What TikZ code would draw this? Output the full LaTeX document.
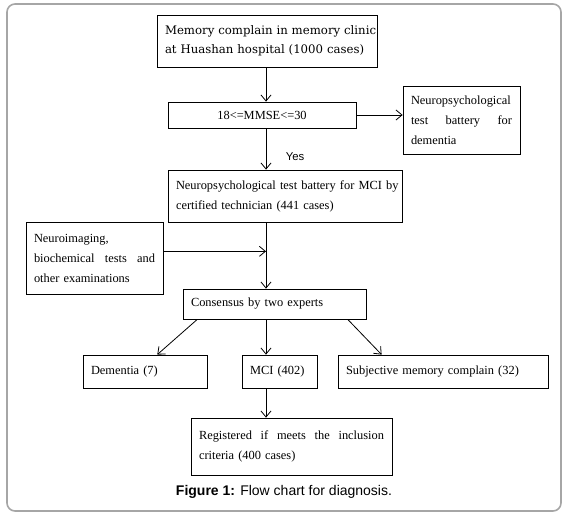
\documentclass[tikz,border=0pt]{standalone}
\usepackage{fontspec}
\setmainfont{Liberation Serif}
\setsansfont{Liberation Sans}
\newfontfamily\clinicfont{DejaVu Serif}
\usetikzlibrary{arrows.meta}
\newcommand{\fullline}[1]{\noindent\hbox to\hsize{#1}}
\begin{document}
\begin{tikzpicture}[x=0.75pt,y=-0.75pt,line width=0.6pt,
    >={Straight Barb[length=4.5pt,width=7.5pt]},
    flowbox/.style={draw, inner xsep=6pt, inner ysep=0pt, align=left,
        font=\fontsize{9.3}{15}\selectfont}]
    \useasboundingbox (0,0) rectangle (566,518);
    \draw[gray!70, line width=1.2pt, rounded corners=6pt] (7,4) rectangle (561,511);
    \coordinate (spine) at (266,0);
    % boxes
    \node[flowbox, text width=153pt, minimum height=39pt,
        font=\clinicfont\fontsize{8.8}{14.5}\selectfont] (clinic) at (267,41)
        {\mbox{Memory complain in memory clinic}\\\mbox{at Huashan hospital (1000 cases)}};
    \node[flowbox, text width=129pt, minimum height=19.5pt, align=center] (mmse) at (262,115) {18<=MMSE<=30};
    \node[flowbox, text width=75.75pt, minimum height=51pt] (dementiabat) at (461.5,120)
        {Neuropsychological\\\fullline{test\hfill battery\hfill for}\\dementia};
    \node[flowbox, text width=163.5pt, minimum height=39pt] (mcibat) at (285,196)
        {\mbox{Neuropsychological test battery for MCI by}\\certified technician (441 cases)};
    \node[flowbox, text width=90.75pt, minimum height=54pt] (imaging) at (94.5,258)
        {Neuroimaging,\\\fullline{biochemical\hfill tests\hfill and}\\other examinations};
    \node[flowbox, text width=125.25pt, minimum height=22.5pt] (consensus) at (274.5,304) {Consensus by two experts};
    \node[flowbox, text width=81pt, minimum height=24.75pt] (dementia) at (145,371.5) {Dementia (7)};
    \node[flowbox, text width=44.25pt, minimum height=24.75pt] (mci) at (279.5,371.5) {MCI (402)};
    \node[flowbox, text width=145.5pt, minimum height=24.75pt] (smc) at (443,371.5) {Subjective memory complain (32)};
    \node[flowbox, text width=138.75pt, minimum height=42.75pt] (registered) at (291.5,446.5)
        {\fullline{Registered\hfill if\hfill meets\hfill the\hfill inclusion}\\criteria (400 cases)};
    \node[font=\sffamily\fontsize{8.5}{10}\selectfont] (yes) at (295,157) {Yes};
    \node[font=\sffamily\fontsize{10.5}{12}\selectfont] (caption) at (284,492)
        {\textbf{Figure 1:} Flow chart for diagnosis.};
    % arrows
    \draw[->] (clinic.south -| spine) -- (mmse.north -| spine);
    \draw[->] (mmse.east) -- (mmse.east -| dementiabat.west);
    \draw[->] (mmse.south -| spine) -- (mcibat.north -| spine);
    \draw[->] (mcibat.south -| spine) -- (consensus.north -| spine);
    \draw[->] ([yshift=5pt]imaging.east) -- ([yshift=5pt]imaging.east -| spine);
    \draw[->] ([xshift=11pt]consensus.south west) -- ([xshift=56pt]dementia.north west);
    \draw[->] (consensus.south -| spine) -- (mci.north -| spine);
    \draw[->] ([xshift=-14pt]consensus.south east) -- ([xshift=33pt]smc.north west);
    \draw[->] (mci.south -| spine) -- (registered.north -| spine);
\end{tikzpicture}
\end{document}
